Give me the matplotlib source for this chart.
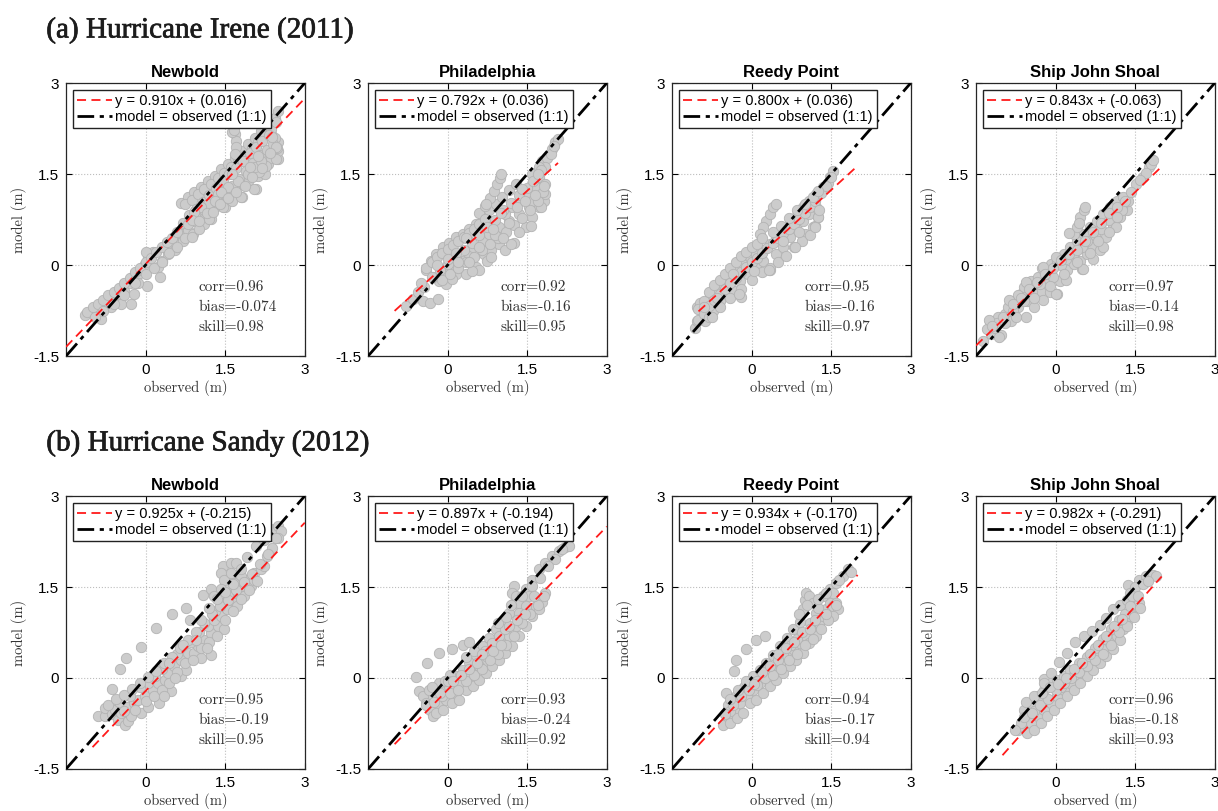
import numpy as np
import matplotlib.pyplot as plt
import matplotlib.patheffects as pe

# Storm-tide comparison: model vs observed water level at four stations
stations = ["Newbold", "Philadelphia", "Reedy Point", "Ship John Shoal"]
events = ["(a) Hurricane Irene (2011)", "(b) Hurricane Sandy (2012)"]

# linear fit y = a*x + b (values from the legends)
irene_slope = [0.910, 0.792, 0.800, 0.843]
irene_icpt = [0.016, 0.036, 0.036, -0.063]
sandy_slope = [0.925, 0.897, 0.934, 0.982]
sandy_icpt = [-0.215, -0.194, -0.170, -0.291]

# x-extent of each fit line
irene_fit_x = [(-1.5, 3.0), (-1.0, 2.08), (-1.0, 2.0), (-1.5, 2.0)]
sandy_fit_x = [(-1.0, 3.0), (-1.0, 3.0), (-1.0, 2.0), (-1.0, 2.0)]

# skill metrics
irene_corr = [0.96, 0.92, 0.95, 0.97]
irene_bias = [-0.074, -0.16, -0.16, -0.14]
irene_skill = [0.98, 0.95, 0.97, 0.98]
sandy_corr = [0.95, 0.93, 0.94, 0.96]
sandy_bias = [-0.19, -0.24, -0.17, -0.18]
sandy_skill = [0.95, 0.92, 0.94, 0.93]

# (observed, model) pairs in m
irene_newbold = [
    (-1.15, -0.82), (-0.99, -0.75), (-0.93, -0.84), (-0.84, -0.78), (-0.77, -0.67), (-0.71, -0.62),
    (-0.84, -0.89), (-0.65, -0.70), (-0.58, -0.56), (-0.49, -0.48), (-0.46, -0.64), (-0.27, -0.64),
    (-0.40, -0.42), (-0.30, -0.29), (-0.24, -0.20), (-0.14, -0.15), (-0.21, -0.48), (0.03, -0.34),
    (-0.14, -0.29), (-0.08, -0.09), (-0.02, 0.02), (0.04, 0.13), (0.14, 0.21), (0.01, 0.21),
    (0.28, -0.19), (0.30, 0.07), (0.23, -0.04), (0.42, 0.18), (0.36, 0.29), (0.48, 0.35),
    (0.55, 0.24), (0.55, 0.48), (0.67, 0.51), (0.70, 0.40), (0.80, 0.57), (0.89, 0.51),
    (0.92, 0.73), (1.05, 0.81), (1.11, 0.68), (1.24, 0.76), (1.30, 0.95), (1.43, 1.06),
    (1.49, 0.95), (1.62, 1.06), (1.68, 1.28), (1.81, 1.12), (1.84, 1.34), (1.93, 1.39),
    (2.09, 1.26), (2.12, 1.47), (2.25, 1.50), (2.31, 1.66), (2.37, 1.77), (2.50, 1.75),
    (2.50, 1.88), (2.50, 2.02), (2.43, 2.10), (2.37, 2.16), (2.47, 1.93),
    (0.67, 1.02), (0.80, 1.12), (0.92, 1.20), (1.05, 1.28), (1.18, 1.39), (1.30, 1.47),
    (1.43, 1.58), (1.55, 1.66), (1.68, 1.77), (1.81, 1.88), (1.93, 1.99), (2.06, 2.10),
    (2.18, 2.21), (2.31, 2.32), (2.43, 2.43), (2.50, 2.54),
    (0.75, 1.00), (0.87, 1.08), (0.99, 1.17), (1.11, 1.26), (1.23, 1.34), (1.36, 1.44),
    (1.48, 1.52), (1.61, 1.62), (1.74, 1.72), (1.87, 1.82), (2.00, 1.93), (2.12, 2.03),
    (2.25, 2.13), (2.37, 2.24), (2.46, 2.35),
    (0.70, 0.70), (0.82, 0.82), (0.95, 0.93), (1.08, 1.04), (1.20, 1.15), (1.32, 1.27),
    (1.45, 1.38), (1.58, 1.50), (1.70, 1.60), (1.83, 1.72), (1.96, 1.84), (2.08, 1.95),
    (2.20, 2.05), (2.33, 2.15),
    (0.80, 0.68), (0.95, 0.78), (1.10, 0.90), (1.22, 1.00), (1.35, 1.10), (1.50, 1.20),
    (1.63, 1.30), (1.77, 1.42), (1.90, 1.55), (2.02, 1.68), (2.15, 1.82), (2.28, 1.90),
    (2.40, 2.00), (1.20, 0.76), (1.45, 0.96), (1.80, 1.12), (2.05, 1.26), (2.14, 1.53),
    (2.27, 1.64), (2.45, 1.75), (2.45, 1.95), (2.39, 2.11),
    (1.68, 2.16), (1.70, 2.05), (1.71, 1.94), (1.68, 1.83), (1.62, 2.19), (1.66, 2.22),
    (1.36, 1.17), (1.55, 1.28), (1.74, 1.39), (1.93, 1.50), (2.06, 1.61), (2.18, 1.72),
    (2.12, 1.80), (1.96, 1.61), (1.62, 1.50), (1.43, 1.20), (1.18, 1.00), (1.05, 0.95),
    (0.92, 0.87), (1.30, 1.06),
    (-1.10, -0.78), (-1.00, -0.70), (-0.90, -0.65), (-0.80, -0.58), (-0.70, -0.50), (-0.60, -0.45),
    (-0.50, -0.38), (-0.40, -0.30), (-0.30, -0.22), (-0.20, -0.12), (-0.10, -0.05), (0.00, 0.05),
    (0.10, 0.12), (0.20, 0.22), (0.30, 0.30), (0.40, 0.38), (0.50, 0.45), (0.60, 0.55),
    (-0.95, -0.85), (-0.80, -0.75), (-0.60, -0.65), (-0.40, -0.50), (-0.20, -0.30), (0.00, -0.15),
    (0.15, -0.05), (0.30, 0.05), (0.45, 0.20), (0.60, 0.30), (0.75, 0.45), (0.88, 0.46),
    (0.88, 0.74), (1.00, 0.60),
    (1.15, 0.85), (1.40, 1.00), (1.55, 1.10), (1.70, 1.20), (1.88, 1.30), (2.00, 1.45),
    (2.20, 1.60), (2.35, 1.85), (1.00, 0.72), (1.28, 0.88),
]
irene_phila = [
    (-0.78, -0.67), (-0.66, -0.56), (-0.56, -0.45), (-0.47, -0.59), (-0.34, -0.62), (-0.19, -0.56),
    (-0.44, -0.37), (-0.41, -0.09), (-0.31, 0.07), (-0.22, 0.18), (-0.09, 0.29), (0.03, 0.37),
    (0.16, 0.46), (0.28, 0.51), (0.41, 0.59), (0.53, 0.68), (0.66, 0.79), (0.78, 0.90),
    (0.91, 1.01), (1.03, 1.12), (1.16, 1.23), (1.28, 1.34),
    (0.60, 0.85), (0.70, 0.98), (0.80, 1.10), (0.87, 1.22), (0.93, 1.33), (0.98, 1.43),
    (1.01, 1.50), (0.72, 1.00),
    (-0.09, -0.15), (0.03, -0.04), (0.16, -0.15), (0.28, 0.07), (0.41, 0.18), (0.53, -0.04),
    (0.47, 0.29), (0.66, 0.40), (0.78, 0.51), (0.69, 0.18), (0.81, 0.24), (0.97, 0.35),
    (1.09, 0.24), (1.25, 0.37), (0.97, 0.62), (1.16, 0.73), (1.34, 0.84), (1.47, 0.62),
    (1.59, 0.79), (1.53, 0.95), (1.72, 0.95), (1.81, 1.06), (1.84, 1.17), (1.81, 1.34),
    (1.72, 1.45), (1.59, 1.50), (1.66, 1.28), (1.47, 1.17), (1.34, 1.06), (1.22, 0.95),
    (1.09, 0.84), (1.59, 1.06), (1.78, 1.72), (1.88, 1.77), (1.97, 1.91), (2.03, 2.02),
    (1.84, 1.61), (1.94, 1.83), (1.72, 1.61), (1.76, 1.56), (2.08, 2.08), (2.00, 1.97),
    (-0.16, -0.26), (-0.28, -0.20), (-0.03, -0.31), (0.09, -0.23), (0.34, -0.15), (0.59, -0.09),
    (0.75, 0.07), (0.45, -0.10), (0.82, 0.13), (1.20, 0.35), (1.58, 0.65), (1.76, 0.96),
    (1.83, 1.34),
    (-0.40, -0.05), (-0.30, 0.05), (-0.20, 0.13), (-0.10, 0.20), (0.00, 0.27), (0.10, 0.33),
    (0.20, 0.40), (0.30, 0.46), (0.40, 0.53), (0.50, 0.60), (0.60, 0.68), (0.70, 0.76),
    (-0.30, -0.20), (-0.15, -0.08), (0.00, 0.02), (0.15, 0.12), (0.30, 0.24), (0.45, 0.36),
    (0.60, 0.50), (0.75, 0.62), (0.90, 0.75), (1.05, 0.90), (1.20, 1.02), (1.35, 1.15),
    (1.50, 1.27), (1.60, 1.38), (1.70, 1.50),
    (-0.10, -0.25), (0.05, -0.15), (0.20, -0.05), (0.35, 0.05), (0.50, 0.14), (0.65, 0.24),
    (0.80, 0.35), (0.95, 0.45), (1.10, 0.55), (1.25, 0.66), (1.40, 0.78), (1.55, 0.90),
    (1.70, 1.05), (1.80, 1.20), (1.82, 1.30),
    (-0.50, -0.30), (-0.20, 0.00), (0.00, 0.10), (0.15, 0.20), (0.35, 0.45), (0.20, 0.05),
    (0.60, 0.30), (0.90, 0.50), (1.00, 0.85), (1.40, 1.25), (0.85, 0.60), (1.15, 0.70),
    (1.05, 0.45), (1.35, 0.55), (1.30, 0.95), (1.45, 1.05), (1.65, 1.15), (0.40, 0.05),
]
irene_reedy = [
    (-1.06, -1.03), (-1.03, -0.92), (-1.03, -0.70), (-0.97, -0.62), (-0.91, -0.81), (-0.88, -0.92),
    (-0.84, -0.70), (-0.78, -0.53), (-0.72, -0.75), (-0.66, -0.42), (-0.59, -0.59), (-0.53, -0.31),
    (-0.47, -0.48), (-0.41, -0.20), (-0.34, -0.42), (-0.28, -0.09), (-0.22, -0.26), (-0.19, -0.53),
    (-0.16, 0.02), (-0.06, -0.15), (-0.03, 0.13), (0.09, 0.18), (0.09, -0.04), (0.22, 0.24),
    (0.22, 0.07), (0.34, -0.09), (0.34, 0.35), (0.47, 0.46), (0.47, 0.18), (0.59, 0.29),
    (0.59, 0.57), (0.72, 0.46), (0.72, 0.68), (0.84, 0.62), (0.84, 0.79), (0.97, 0.73),
    (0.97, 0.95), (1.09, 0.84), (1.09, 1.06), (1.22, 0.95), (1.22, 1.17), (1.25, 0.79),
    (1.16, 0.62), (1.00, 0.51), (1.34, 1.28), (1.47, 1.45), (1.53, 1.55), (1.44, 1.36),
    (0.28, 0.73), (0.34, 0.84), (0.41, 0.95), (0.47, 1.01), (0.22, 0.62), (0.16, 0.51),
    (-1.00, -0.72), (-0.90, -0.60), (-0.80, -0.45), (-0.70, -0.33), (-0.60, -0.25), (-0.50, -0.15),
    (-0.40, -0.05), (-0.30, 0.05), (-0.20, 0.15), (-0.10, 0.22), (0.00, 0.30), (0.10, 0.35),
    (0.20, 0.45),
    (-1.00, -0.90), (-0.90, -0.80), (-0.80, -0.68), (-0.70, -0.58), (-0.60, -0.48), (-0.50, -0.40),
    (-0.40, -0.30), (-0.30, -0.22), (-0.20, -0.12), (-0.10, -0.04), (0.00, 0.05), (0.10, 0.12),
    (0.20, 0.20), (0.30, 0.28), (0.40, 0.36), (0.50, 0.44), (0.60, 0.52), (0.70, 0.60),
    (0.80, 0.68), (0.90, 0.76), (1.00, 0.85), (1.10, 0.95), (1.20, 1.05), (1.30, 1.18),
    (1.40, 1.30), (1.50, 1.45),
    (-0.80, -0.85), (-0.60, -0.70), (-0.40, -0.55), (-0.20, -0.40), (0.00, -0.25), (0.20, -0.12),
    (0.35, -0.05), (0.50, 0.05), (0.65, 0.15), (0.80, 0.30), (0.95, 0.40), (1.10, 0.50),
    (1.20, 0.65), (1.25, 0.80), (1.28, 0.90),
    (0.40, 0.55), (0.55, 0.65), (0.70, 0.78), (0.85, 0.90), (1.00, 1.00), (1.15, 1.12),
    (1.25, 1.22), (-0.75, -0.86), (-0.24, -0.47), (0.32, -0.09), (0.82, 0.30), (1.20, 0.63),
    (-0.90, -0.70), (-0.65, -0.55), (-0.35, -0.15), (0.05, -0.10), (0.60, 0.40), (0.90, 0.55),
]
irene_sjs = [
    (-1.37, -1.25), (-1.24, -0.92), (-1.21, -1.14), (-1.15, -1.03), (-1.09, -0.86), (-1.02, -1.16),
    (-0.96, -0.81), (-0.90, -0.70), (-0.84, -0.92), (-0.78, -0.59), (-0.71, -0.70), (-0.65, -0.48),
    (-0.59, -0.37), (-0.53, -0.59), (-0.47, -0.26), (-0.40, -0.70), (-0.34, -0.20), (-0.28, -0.42),
    (-0.22, -0.09), (-0.16, -0.31), (-0.09, 0.02), (0.03, -0.48), (0.03, 0.07), (0.09, -0.26),
    (0.16, 0.18), (0.22, -0.09), (0.28, 0.29), (0.34, 0.02), (0.40, 0.40), (0.47, 0.07),
    (0.50, -0.07), (0.53, 0.51), (0.59, 0.18), (0.65, 0.62), (0.71, 0.29), (0.78, 0.73),
    (0.84, 0.24), (0.90, 0.84), (0.96, 0.46), (1.02, 0.95), (1.09, 0.62), (1.15, 1.06),
    (1.21, 0.79), (1.27, 1.12), (1.34, 0.90), (1.37, 1.06), (1.52, 1.34), (1.65, 1.45),
    (1.77, 1.61), (1.80, 1.66), (1.83, 1.73), (1.70, 1.52), (1.60, 1.40),
    (0.34, 0.51), (0.40, 0.62), (0.47, 0.79), (0.53, 0.90), (0.56, 0.95), (0.45, 0.70),
    (-1.10, -0.95), (-0.95, -0.95), (-0.80, -0.75), (-0.60, -0.60), (-0.45, -0.45), (-0.30, -0.32),
    (-0.15, -0.15), (-0.05, -0.20), (0.10, 0.00), (0.20, 0.10), (0.35, 0.20), (0.50, 0.30),
    (0.60, 0.40), (0.75, 0.50), (0.85, 0.60), (1.00, 0.75), (1.10, 0.85), (1.25, 0.95),
    (-1.30, -1.05), (-0.70, -0.50), (-0.25, -0.05), (-0.10, -0.45), (0.20, -0.25), (0.70, 0.10),
    (-1.25, -0.91), (-0.87, -0.58), (-0.56, -0.28), (-0.24, -0.03), (0.00, 0.13), (0.26, 0.52),
    (-1.06, -1.19), (-0.56, -0.86), (-0.24, -0.58), (0.00, -0.47), (0.51, -0.06), (0.89, 0.30),
    (1.14, 0.63), (1.26, 0.90),
    (-1.20, -1.00), (-1.00, -0.85), (-0.80, -0.65), (-0.65, -0.55), (-0.50, -0.40), (-0.35, -0.28),
    (-0.20, -0.15), (-0.05, -0.05), (0.10, 0.08), (0.25, 0.18), (0.40, 0.25), (0.55, 0.40),
    (0.70, 0.55), (0.85, 0.70), (1.00, 0.85), (1.15, 0.95), (1.30, 1.05), (1.42, 1.20),
    (-0.75, -0.85), (-0.40, -0.55), (-0.10, -0.35), (0.15, -0.15), (0.40, 0.05), (0.65, 0.20),
    (0.80, 0.40), (1.00, 0.55), (1.15, 0.80),
]
sandy_newbold = [
    (-0.64, -0.18), (-0.49, 0.15), (-0.36, 0.33), (-0.08, 0.51), (0.20, 0.82), (0.49, 1.05),
    (0.76, 1.15), (0.83, 0.96), (1.08, 1.36), (1.23, 1.46), (1.29, 1.35), (1.45, 1.84),
    (1.42, 1.73), (1.61, 1.90), (1.70, 1.90), (1.92, 2.00), (2.08, 2.17), (2.23, 2.28),
    (2.36, 2.39), (2.42, 2.45), (2.50, 2.50), (2.55, 2.42), (2.50, 2.30),
    (-0.89, -0.63), (-0.77, -0.63), (-0.77, -0.49), (-0.64, -0.60), (-0.58, -0.52), (-0.52, -0.69),
    (-0.46, -0.58), (-0.39, -0.77), (-0.33, -0.71), (-0.27, -0.63), (-0.33, -0.47), (-0.21, -0.41),
    (-0.08, -0.58), (-0.14, -0.36), (-0.02, -0.30), (0.04, -0.47), (0.14, -0.19), (0.26, -0.41),
    (0.23, -0.08), (0.36, -0.03), (0.48, -0.22), (0.42, 0.08), (0.54, 0.19), (0.67, 0.03),
    (0.76, 0.14), (0.67, 0.30), (0.79, 0.41), (0.92, 0.41), (1.04, 0.33), (0.98, 0.52),
    (1.23, 0.38), (1.11, 0.63), (1.23, 0.74), (1.17, 0.85), (1.36, 0.85), (1.29, 0.96),
    (1.42, 1.02), (1.48, 0.80), (1.54, 1.13), (1.42, 1.24), (1.61, 1.29), (1.67, 1.40),
    (1.73, 1.18), (1.79, 1.51), (1.92, 1.62), (1.54, 1.51), (1.48, 1.62), (1.67, 1.68),
    (2.04, 1.73), (2.17, 1.79), (2.23, 1.84), (1.86, 1.35), (1.98, 1.51), (2.04, 1.62),
    (1.79, 1.68), (1.67, 1.57), (1.61, 1.73), (1.42, 1.46), (2.29, 2.01), (2.38, 2.14),
    (0.04, -0.08), (0.17, 0.03), (-0.50, -0.40), (-0.30, -0.30), (-0.10, -0.15), (0.30, 0.15),
    (0.60, 0.40), (0.85, 0.60), (1.00, 0.75), (1.30, 1.10), (1.55, 1.35), (2.45, 2.30),
    (-0.70, -0.45), (-0.55, -0.35), (-0.40, -0.28), (-0.25, -0.18), (-0.10, -0.08), (0.05, 0.02),
    (0.20, 0.12), (0.35, 0.25), (0.50, 0.35), (0.65, 0.50), (0.80, 0.62), (0.95, 0.75),
    (1.10, 0.90), (1.25, 1.05), (1.40, 1.18), (1.55, 1.28), (1.70, 1.45), (1.85, 1.58),
    (2.00, 1.72), (2.15, 1.88), (2.30, 2.05),
    (-0.40, -0.55), (-0.20, -0.52), (0.00, -0.38), (0.15, -0.30), (0.30, -0.20), (0.45, -0.08),
    (0.60, 0.10), (0.75, 0.25), (0.90, 0.30), (1.05, 0.50), (1.20, 0.60), (1.35, 0.70),
    (1.50, 0.95), (1.65, 1.10), (1.80, 1.30), (1.95, 1.45), (2.10, 1.60),
    (1.05, 0.95), (1.20, 1.15), (1.35, 1.30), (1.50, 1.42), (1.65, 1.55), (1.80, 1.80),
    (0.45, 0.25), (0.70, 0.55), (0.95, 0.62), (1.15, 0.50), (0.55, 0.00), (0.35, -0.30),
]
sandy_phila = [
    (-0.59, 0.01), (-0.54, -0.22), (-0.38, 0.25), (-0.16, 0.42), (0.08, 0.48), (0.28, 0.55),
    (0.41, 0.60),
    (-0.47, -0.30), (-0.41, -0.41), (-0.34, -0.52), (-0.28, -0.63), (-0.22, -0.58), (-0.28, -0.30),
    (-0.16, -0.41), (-0.09, -0.52), (-0.03, -0.36), (-0.09, -0.19), (-0.16, -0.08), (0.03, -0.14),
    (0.09, -0.41), (0.16, -0.25), (0.22, -0.36), (0.28, -0.08), (0.34, -0.19), (0.41, 0.03),
    (0.47, -0.14), (0.53, 0.14), (0.59, -0.03), (0.66, 0.25), (0.72, 0.08), (0.78, 0.36),
    (0.84, 0.19), (0.91, 0.47), (0.97, 0.30), (1.03, 0.58), (1.09, 0.41), (1.16, 0.69),
    (1.22, 0.52), (1.28, 0.85), (1.34, 0.69), (1.41, 1.02), (1.47, 0.85), (1.53, 1.13),
    (1.59, 1.02), (1.66, 1.18), (1.72, 1.13), (1.78, 1.26), (1.84, 1.40), (1.81, 1.35),
    (0.16, 0.03), (0.28, 0.14), (0.41, 0.27), (0.53, 0.38), (0.66, 0.52), (0.78, 0.66),
    (0.91, 0.80), (1.03, 0.93), (1.16, 1.07), (1.25, 1.24), (1.25, 1.51), (1.22, 1.40),
    (1.28, 1.35), (1.34, 1.24), (1.47, 1.46), (1.59, 1.62), (1.72, 1.79), (1.84, 1.90),
    (1.97, 2.01), (2.09, 2.09), (2.22, 2.16), (2.28, 2.18), (2.03, 1.96), (1.59, 1.51),
    (1.53, 1.35), (1.47, 1.18), (0.97, 0.69), (0.84, 0.58), (0.72, 0.36), (1.09, 0.80),
    (1.34, 1.07), (-0.05, -0.05), (0.05, 0.05), (-0.35, -0.20), (0.20, -0.10), (0.60, 0.20),
    (-0.40, -0.45), (-0.25, -0.40), (-0.10, -0.30), (0.05, -0.25), (0.20, -0.20), (0.35, -0.05),
    (0.50, 0.05), (0.65, 0.15), (0.80, 0.30), (0.95, 0.40), (1.10, 0.55), (1.25, 0.70),
    (1.40, 0.90), (1.55, 1.05), (1.70, 1.20),
    (-0.30, -0.15), (-0.15, -0.25), (0.00, -0.05), (0.10, -0.05), (0.25, 0.05), (0.40, 0.15),
    (0.55, 0.25), (0.70, 0.45), (0.85, 0.45), (1.00, 0.55), (1.15, 0.85), (1.30, 0.95),
    (1.45, 1.05), (1.62, 1.35), (1.40, 1.35), (1.75, 1.65), (1.90, 1.85), (2.15, 2.12),
    (0.35, 0.35), (0.50, 0.45), (0.65, 0.40), (0.95, 0.90), (1.10, 1.00), (1.20, 1.20),
]
sandy_reedy = [
    (-0.48, -0.25), (-0.34, 0.12), (-0.29, 0.29), (-0.11, 0.47), (0.09, 0.62), (0.25, 0.70),
    (-0.53, -0.77), (-0.47, -0.63), (-0.41, -0.74), (-0.34, -0.52), (-0.28, -0.66), (-0.22, -0.41),
    (-0.16, -0.58), (-0.09, -0.30), (-0.03, -0.41), (0.03, -0.19), (0.09, -0.36), (0.16, -0.08),
    (0.22, -0.25), (0.28, 0.03), (0.34, -0.14), (0.41, 0.14), (0.47, -0.03), (0.53, 0.25),
    (0.59, 0.08), (0.66, 0.36), (0.72, 0.19), (0.78, 0.47), (0.84, 0.30), (0.91, 0.58),
    (0.97, 0.41), (1.03, 0.69), (1.09, 0.58), (1.16, 0.80), (1.22, 0.69), (1.28, 0.91),
    (1.34, 1.02), (1.41, 1.13), (1.47, 1.24), (1.53, 1.18), (1.59, 1.24), (1.63, 1.13),
    (1.53, 1.02), (1.45, 0.95), (1.60, 1.20),
    (0.03, 0.03), (0.16, 0.14), (0.28, 0.25), (0.41, 0.38), (0.53, 0.52), (0.66, 0.66),
    (0.78, 0.80), (0.91, 0.93), (0.97, 1.13), (1.00, 1.29), (1.03, 1.40), (1.09, 1.35),
    (1.16, 1.24), (1.22, 1.07), (1.34, 1.35), (1.47, 1.46), (1.59, 1.57), (1.72, 1.68),
    (1.81, 1.79), (1.53, 1.40), (1.88, 1.75), (1.65, 1.62),
    (-0.45, -0.45), (-0.30, -0.30), (-0.15, -0.15), (-0.40, -0.55), (0.10, -0.05), (0.35, 0.10),
    (0.60, 0.40), (0.85, 0.65), (1.10, 0.90), (1.25, 1.15), (0.50, 0.30), (0.75, 0.55),
    (-0.50, -0.60), (-0.35, -0.45), (-0.20, -0.30), (-0.05, -0.20), (0.10, -0.12), (0.25, 0.00),
    (0.40, 0.05), (0.55, 0.15), (0.70, 0.30), (0.85, 0.40), (1.00, 0.55), (1.15, 0.65),
    (1.30, 0.80), (1.40, 1.05),
    (-0.40, -0.35), (-0.25, -0.20), (-0.10, -0.05), (0.05, -0.10), (0.20, 0.10), (0.35, 0.20),
    (0.50, 0.40), (0.65, 0.50), (0.80, 0.60), (0.95, 0.75), (1.10, 0.80), (1.20, 0.95),
    (0.90, 1.05), (1.05, 1.20), (1.25, 1.30), (1.40, 1.40),
]
sandy_sjs = [
    (-0.22, -0.02), (-0.09, 0.09), (0.06, 0.26), (0.22, 0.42), (0.37, 0.60), (0.53, 0.69),
    (0.68, 0.77), (0.84, 0.88), (0.96, 0.99), (1.09, 1.13), (1.21, 1.21), (1.37, 1.54),
    (1.40, 1.40), (1.34, 1.29),
    (-0.71, -0.85), (-0.59, -0.80), (-0.53, -0.91), (-0.47, -0.74), (-0.40, -0.85), (-0.34, -0.63),
    (-0.28, -0.74), (-0.22, -0.52), (-0.16, -0.63), (-0.09, -0.41), (-0.03, -0.52), (0.03, -0.30),
    (0.09, -0.41), (0.16, -0.19), (0.22, -0.30), (0.28, -0.08), (0.34, -0.19), (0.40, 0.03),
    (0.47, -0.08), (0.53, 0.14), (0.59, 0.03), (0.65, 0.25), (0.71, 0.14), (0.78, 0.36),
    (0.84, 0.25), (0.90, 0.47), (0.96, 0.36), (1.02, 0.58), (1.09, 0.47), (1.15, 0.69),
    (1.21, 0.63), (1.27, 0.80), (1.34, 0.91), (1.40, 1.02), (1.46, 1.13), (1.52, 1.18),
    (1.58, 1.24), (1.58, 1.62), (1.71, 1.68), (1.83, 1.70), (1.89, 1.68), (1.50, 1.50),
    (-0.47, -0.41), (-0.34, -0.30), (-0.59, -0.52), (-0.22, -0.19), (-0.09, -0.08), (0.03, -0.03),
    (0.16, 0.03), (0.28, 0.14), (-0.22, -0.08), (-0.65, -0.74), (-0.77, -0.85),
    (0.45, 0.25), (0.60, 0.35), (0.75, 0.50), (0.90, 0.65), (1.05, 0.80), (1.20, 0.95),
    (1.30, 1.05), (1.45, 1.35), (1.65, 1.55), (0.10, -0.15), (0.35, 0.05), (-0.40, -0.55),
    (-0.60, -0.65), (-0.45, -0.58), (-0.30, -0.45), (-0.15, -0.35), (0.00, -0.20), (0.15, -0.08),
    (0.30, 0.00), (0.45, 0.10), (0.60, 0.20), (0.75, 0.30), (0.90, 0.40), (1.05, 0.55),
    (1.20, 0.75), (1.35, 0.85), (1.48, 1.00), (1.60, 1.15),
    (-0.55, -0.40), (-0.40, -0.30), (-0.25, -0.25), (-0.10, -0.15), (0.05, -0.10), (0.20, 0.00),
    (0.35, 0.15), (0.50, 0.25), (0.65, 0.40), (0.80, 0.55), (0.95, 0.70), (1.10, 0.85),
    (1.25, 0.98), (1.40, 1.18), (1.55, 1.35), (1.75, 1.60),
]

irene_pts = [irene_newbold, irene_phila, irene_reedy, irene_sjs]
sandy_pts = [sandy_newbold, sandy_phila, sandy_reedy, sandy_sjs]

rows = [
    (irene_pts, irene_slope, irene_icpt, irene_fit_x, irene_corr, irene_bias, irene_skill),
    (sandy_pts, sandy_slope, sandy_icpt, sandy_fit_x, sandy_corr, sandy_bias, sandy_skill),
]

fig = plt.figure(figsize=(12.18, 8.11), dpi=100)

lefts = [0.0542, 0.3022, 0.5517, 0.8013]
bottoms = [0.561, 0.0518]
w, h = 0.196, 0.3366
lims = (-1.5, 3)

for r, (pts, slope, icpt, fitx, corr, bias, skill) in enumerate(rows):
    fig.text(0.038, bottoms[r] + h + 0.065, events[r], fontsize=21,
             family="Liberation Serif", va="center", ha="left", color="#1c1c1c",
             path_effects=[pe.withStroke(linewidth=0.5, foreground="#1c1c1c")])
    for c in range(4):
        ax = fig.add_axes([lefts[c], bottoms[r], w, h])
        xy = np.array(pts[c])
        ax.scatter(xy[:, 0], xy[:, 1], s=56, facecolor="#cccccc",
                   edgecolor="#b3b3b3", linewidth=0.6, zorder=2)
        xf = np.array(fitx[c])
        ax.plot(xf, slope[c] * xf + icpt[c], "--", color="#ff1a1a", lw=1.3,
                dashes=(5, 3), zorder=3,
                label="y = %.3fx + (%.3f)" % (slope[c], icpt[c]))
        ax.plot(lims, lims, color="black", lw=2, dashes=(6, 2, 1.5, 2), zorder=4,
                label="model = observed (1:1)")

        ax.set_xlim(lims)
        ax.set_ylim(lims)
        ax.set_xticks([0, 1.5, 3])
        ax.set_yticks([-1.5, 0, 1.5, 3])
        ax.set_xticklabels(["0", "1.5", "3"])
        ax.set_yticklabels(["-1.5", "0", "1.5", "3"])
        ax.tick_params(direction="in", top=True, right=True, length=4,
                       labelsize=11, pad=5)
        for lab in ax.get_xticklabels() + ax.get_yticklabels():
            lab.set_family("Liberation Sans")
        ax.grid(True, ls=":", color="#bdbdbd", lw=0.8)
        ax.set_axisbelow(True)
        for sp in ax.spines.values():
            sp.set_color("#262626")
            sp.set_linewidth(0.9)

        ax.set_title(stations[c], fontsize=12, fontweight="bold",
                     family="Liberation Sans", pad=4)
        ax.set_xlabel("observed (m)", family="cmr10", fontsize=10.5, labelpad=2,
                      color="#333333")
        ax.set_ylabel("model (m)", family="cmr10", fontsize=10.5, labelpad=4,
                      color="#333333")

        stats = ["corr=%g" % corr[c], "bias=%g" % bias[c], "skill=%g" % skill[c]]
        for k, s in enumerate(stats):
            ax.text(1.0, -0.36 - 0.335 * k, s, family="cmr10", fontsize=11,
                    va="center", ha="left", color="#333333")

        leg = ax.legend(loc="upper left", handlelength=2.4, borderaxespad=0.45,
                        fancybox=False, framealpha=1, edgecolor="#222222",
                        borderpad=0.3, labelspacing=0.12, handletextpad=0.2,
                        prop={"family": "Liberation Sans", "size": 10.5})
        leg.get_frame().set_linewidth(1.0)

fig.savefig("out.png", dpi=100)
